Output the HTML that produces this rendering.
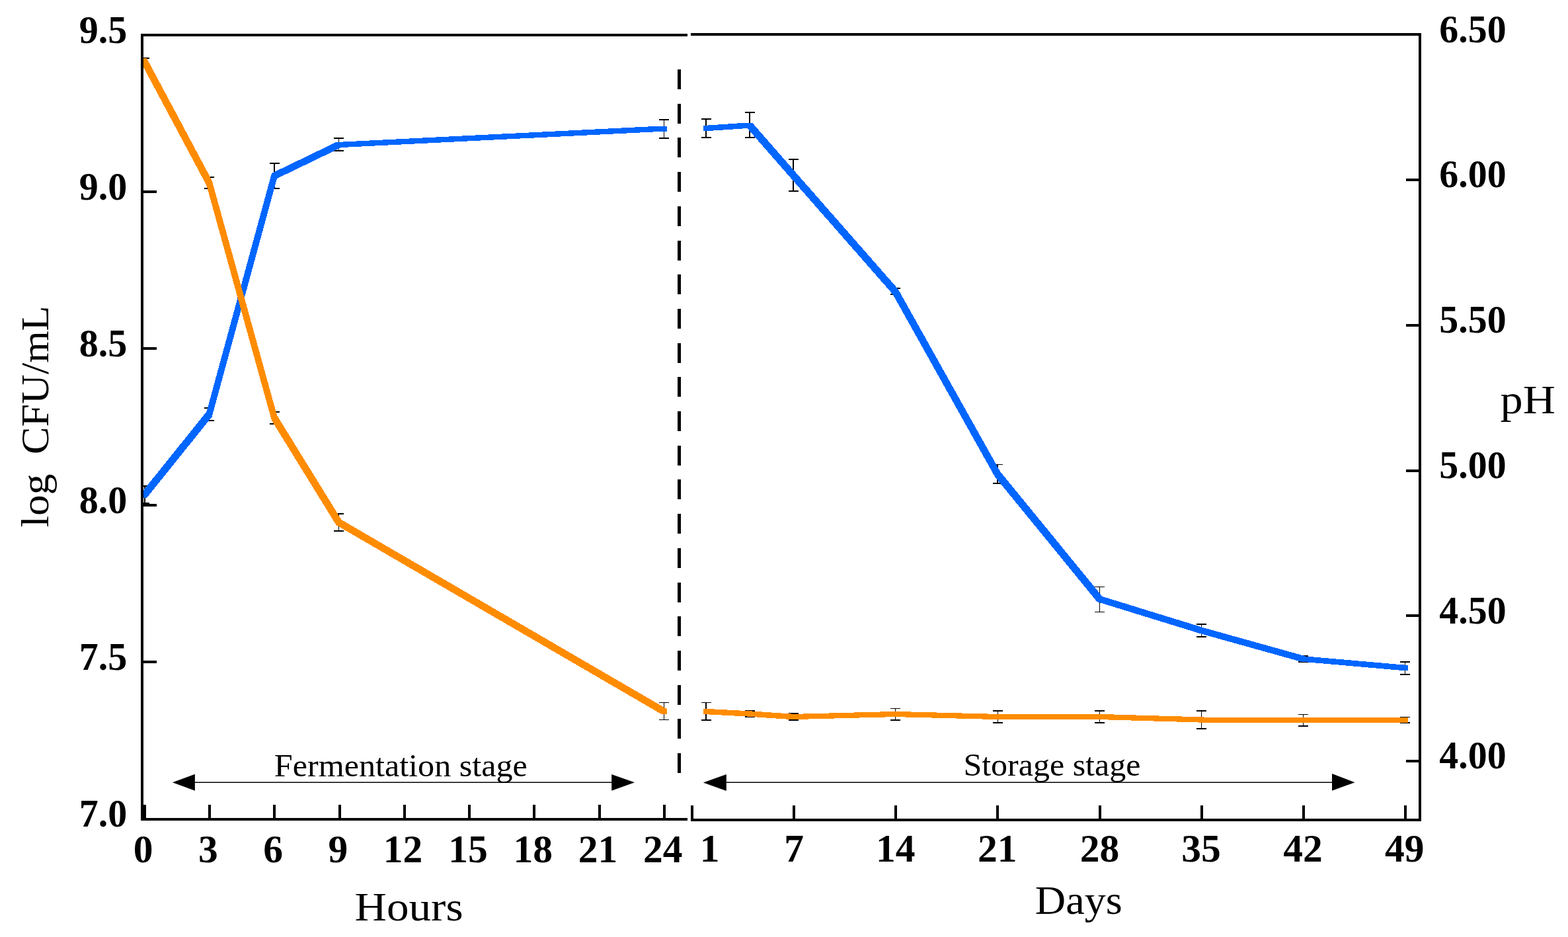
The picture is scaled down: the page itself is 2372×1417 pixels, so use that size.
<!DOCTYPE html>
<html><head><meta charset="utf-8"><title>Chart</title>
<style>html,body{margin:0;padding:0;background:#fff;}svg{display:block;}</style>
</head><body>
<svg width="2372" height="1417" viewBox="0 0 2372 1417">
<rect x="0" y="0" width="2372" height="1417" fill="#fff"/>
<g fill="#000" shape-rendering="crispEdges">
<rect x="213" y="51" width="4" height="1190"/>
<rect x="213" y="51" width="827" height="4"/>
<rect x="213" y="1237" width="827" height="4"/>
<rect x="1045" y="50" width="1105" height="4"/>
<rect x="1045" y="1238" width="1105" height="4"/>
<rect x="2146" y="50" width="4" height="1192"/>
<rect x="217" y="288.0" width="20" height="4"/>
<rect x="217" y="525.0" width="20" height="4"/>
<rect x="217" y="762.0" width="20" height="4"/>
<rect x="217" y="999.0" width="20" height="4"/>
<rect x="2127" y="270.0" width="19" height="4"/>
<rect x="2127" y="489.8" width="19" height="4"/>
<rect x="2127" y="709.5" width="19" height="4"/>
<rect x="2127" y="929.2" width="19" height="4"/>
<rect x="2127" y="1149.0" width="19" height="4"/>
<rect x="216.7" y="1217" width="4" height="21"/>
<rect x="315.0" y="1217" width="4" height="21"/>
<rect x="413.3" y="1217" width="4" height="21"/>
<rect x="511.6" y="1217" width="4" height="21"/>
<rect x="609.8" y="1217" width="4" height="21"/>
<rect x="708.1" y="1217" width="4" height="21"/>
<rect x="806.4" y="1217" width="4" height="21"/>
<rect x="904.7" y="1217" width="4" height="21"/>
<rect x="1003.0" y="1217" width="4" height="21"/>
<rect x="1044.8" y="1218" width="4" height="21"/>
<rect x="1199.0" y="1218" width="4" height="21"/>
<rect x="1353.1" y="1218" width="4" height="21"/>
<rect x="1507.3" y="1218" width="4" height="21"/>
<rect x="1661.5" y="1218" width="4" height="21"/>
<rect x="1815.6" y="1218" width="4" height="21"/>
<rect x="1969.8" y="1218" width="4" height="21"/>
<rect x="2124.0" y="1218" width="4" height="21"/>
</g>
<line x1="1027.5" y1="105" x2="1027.5" y2="1170" stroke="#000" stroke-width="5" stroke-dasharray="30 21.7" shape-rendering="crispEdges"/>
<clipPath id="cl"><rect x="217" y="0" width="2200" height="1417"/></clipPath>
<g fill="#000" shape-rendering="crispEdges" clip-path="url(#cl)">
<rect x="217.9" y="735.0" width="1.6" height="26.0"/><rect x="211.2" y="734.0" width="15" height="1.9"/><rect x="211.2" y="760.0" width="15" height="1.9"/>
<rect x="315.7" y="617.0" width="1.6" height="19.0"/><rect x="309.0" y="616.0" width="15" height="1.9"/><rect x="309.0" y="635.0" width="15" height="1.9"/>
<rect x="414.2" y="247.0" width="1.6" height="38.0"/><rect x="407.5" y="246.1" width="15" height="1.9"/><rect x="407.5" y="284.1" width="15" height="1.9"/>
<rect x="511.7" y="209.0" width="1.6" height="18.5"/><rect x="505.0" y="208.1" width="15" height="1.9"/><rect x="505.0" y="226.6" width="15" height="1.9"/>
<rect x="1003.7" y="181.0" width="1.6" height="28.0"/><rect x="997.0" y="180.1" width="15" height="1.9"/><rect x="997.0" y="208.1" width="15" height="1.9"/>
<rect x="217.9" y="88.0" width="1.6" height="11.0"/><rect x="211.2" y="87.0" width="15" height="1.9"/><rect x="211.2" y="98.0" width="15" height="1.9"/>
<rect x="315.7" y="268.0" width="1.6" height="17.0"/><rect x="309.0" y="267.1" width="15" height="1.9"/><rect x="309.0" y="284.1" width="15" height="1.9"/>
<rect x="414.2" y="623.0" width="1.6" height="18.0"/><rect x="407.5" y="622.0" width="15" height="1.9"/><rect x="407.5" y="640.0" width="15" height="1.9"/>
<rect x="511.7" y="777.0" width="1.6" height="26.4"/><rect x="505.0" y="776.0" width="15" height="1.9"/><rect x="505.0" y="802.4" width="15" height="1.9"/>
<rect x="1003.7" y="1062.5" width="1.6" height="25.9"/><rect x="997.0" y="1061.5" width="15" height="1.9"/><rect x="997.0" y="1087.5" width="15" height="1.9"/>
<rect x="1067.2" y="180.0" width="1.6" height="28.0"/><rect x="1060.5" y="179.1" width="15" height="1.9"/><rect x="1060.5" y="207.1" width="15" height="1.9"/>
<rect x="1133.2" y="170.0" width="1.6" height="38.0"/><rect x="1126.5" y="169.1" width="15" height="1.9"/><rect x="1126.5" y="207.1" width="15" height="1.9"/>
<rect x="1199.2" y="241.0" width="1.6" height="47.7"/><rect x="1192.5" y="240.1" width="15" height="1.9"/><rect x="1192.5" y="287.8" width="15" height="1.9"/>
<rect x="1353.7" y="436.0" width="1.6" height="9.4"/><rect x="1347.0" y="435.1" width="15" height="1.9"/><rect x="1347.0" y="444.4" width="15" height="1.9"/>
<rect x="1508.2" y="702.5" width="1.6" height="28.5"/><rect x="1501.5" y="701.5" width="15" height="1.9"/><rect x="1501.5" y="730.0" width="15" height="1.9"/>
<rect x="1662.7" y="887.5" width="1.6" height="38.0"/><rect x="1656.0" y="886.5" width="15" height="1.9"/><rect x="1656.0" y="924.5" width="15" height="1.9"/>
<rect x="1816.7" y="944.0" width="1.6" height="19.0"/><rect x="1810.0" y="943.0" width="15" height="1.9"/><rect x="1810.0" y="962.0" width="15" height="1.9"/>
<rect x="1970.7" y="991.7" width="1.6" height="9.3"/><rect x="1964.0" y="990.8" width="15" height="1.9"/><rect x="1964.0" y="1000.0" width="15" height="1.9"/>
<rect x="2124.7" y="1001.0" width="1.6" height="19.0"/><rect x="2118.0" y="1000.0" width="15" height="1.9"/><rect x="2118.0" y="1019.0" width="15" height="1.9"/>
<rect x="1067.2" y="1062.5" width="1.6" height="26.5"/><rect x="1060.5" y="1061.5" width="15" height="1.9"/><rect x="1060.5" y="1088.0" width="15" height="1.9"/>
<rect x="1133.2" y="1075.3" width="1.6" height="8.8"/><rect x="1126.5" y="1074.3" width="15" height="1.9"/><rect x="1126.5" y="1083.1" width="15" height="1.9"/>
<rect x="1199.2" y="1079.0" width="1.6" height="10.0"/><rect x="1192.5" y="1078.0" width="15" height="1.9"/><rect x="1192.5" y="1088.0" width="15" height="1.9"/>
<rect x="1353.7" y="1071.5" width="1.6" height="17.5"/><rect x="1347.0" y="1070.5" width="15" height="1.9"/><rect x="1347.0" y="1088.0" width="15" height="1.9"/>
<rect x="1508.7" y="1075.3" width="1.6" height="17.7"/><rect x="1502.0" y="1074.3" width="15" height="1.9"/><rect x="1502.0" y="1092.0" width="15" height="1.9"/>
<rect x="1662.7" y="1075.3" width="1.6" height="17.7"/><rect x="1656.0" y="1074.3" width="15" height="1.9"/><rect x="1656.0" y="1092.0" width="15" height="1.9"/>
<rect x="1816.7" y="1075.0" width="1.6" height="26.8"/><rect x="1810.0" y="1074.0" width="15" height="1.9"/><rect x="1810.0" y="1100.8" width="15" height="1.9"/>
<rect x="1970.7" y="1080.4" width="1.6" height="17.4"/><rect x="1964.0" y="1079.5" width="15" height="1.9"/><rect x="1964.0" y="1096.8" width="15" height="1.9"/>
<rect x="2124.7" y="1084.5" width="1.6" height="8.8"/><rect x="2118.0" y="1083.5" width="15" height="1.9"/><rect x="2118.0" y="1092.3" width="15" height="1.9"/>
</g>
<g>
<path d="M214.00,745.00 L312.50,622.50 L320.50,622.50 L320.50,630.50 L222.00,753.00 L214.00,753.00 Z M312.50,622.50 L411.00,262.00 L419.00,262.00 L419.00,270.00 L320.50,630.50 L312.50,630.50 Z M411.00,262.00 L508.50,215.00 L516.50,215.00 L516.50,223.00 L419.00,270.00 L411.00,270.00 Z M508.50,215.00 L1000.50,190.50 L1008.50,190.50 L1008.50,198.50 L516.50,223.00 L508.50,223.00 Z" fill="#0066FF" fill-rule="nonzero" shape-rendering="crispEdges"/>
<path d="M1064.00,190.00 L1130.00,185.50 L1138.00,185.50 L1138.00,193.50 L1072.00,198.00 L1064.00,198.00 Z M1130.00,185.50 L1138.00,185.50 L1204.00,261.00 L1204.00,269.00 L1196.00,269.00 L1130.00,193.50 Z M1196.00,261.00 L1204.00,261.00 L1358.50,437.00 L1358.50,445.00 L1350.50,445.00 L1196.00,269.00 Z M1350.50,437.00 L1358.50,437.00 L1513.00,713.00 L1513.00,721.00 L1505.00,721.00 L1350.50,445.00 Z M1505.00,713.00 L1513.00,713.00 L1667.50,902.00 L1667.50,910.00 L1659.50,910.00 L1505.00,721.00 Z M1659.50,902.00 L1667.50,902.00 L1821.50,949.50 L1821.50,957.50 L1813.50,957.50 L1659.50,910.00 Z M1813.50,949.50 L1821.50,949.50 L1975.50,992.50 L1975.50,1000.50 L1967.50,1000.50 L1813.50,957.50 Z M1967.50,992.50 L1975.50,992.50 L2129.50,1006.00 L2129.50,1014.00 L2121.50,1014.00 L1967.50,1000.50 Z" fill="#0066FF" fill-rule="nonzero" shape-rendering="crispEdges"/>
<path d="M214.00,88.00 L222.00,88.00 L320.50,272.50 L320.50,280.50 L312.50,280.50 L214.00,96.00 Z M312.50,272.50 L320.50,272.50 L419.00,628.00 L419.00,636.00 L411.00,636.00 L312.50,280.50 Z M411.00,628.00 L419.00,628.00 L516.50,786.00 L516.50,794.00 L508.50,794.00 L411.00,636.00 Z M508.50,786.00 L516.50,786.00 L1008.50,1072.00 L1008.50,1080.00 L1000.50,1080.00 L508.50,794.00 Z" fill="#FF8C00" fill-rule="nonzero" shape-rendering="crispEdges"/>
<path d="M1064.00,1072.00 L1072.00,1072.00 L1138.00,1075.50 L1138.00,1083.50 L1130.00,1083.50 L1064.00,1080.00 Z M1130.00,1075.50 L1138.00,1075.50 L1204.00,1080.00 L1204.00,1088.00 L1196.00,1088.00 L1130.00,1083.50 Z M1196.00,1080.00 L1350.50,1076.00 L1358.50,1076.00 L1358.50,1084.00 L1204.00,1088.00 L1196.00,1088.00 Z M1350.50,1076.00 L1358.50,1076.00 L1513.50,1080.00 L1513.50,1088.00 L1505.50,1088.00 L1350.50,1084.00 Z M1505.50,1080.00 L1667.50,1080.00 L1667.50,1088.00 L1505.50,1088.00 Z M1659.50,1080.00 L1667.50,1080.00 L1821.50,1084.50 L1821.50,1092.50 L1813.50,1092.50 L1659.50,1088.00 Z M1813.50,1084.50 L1821.50,1084.50 L1975.50,1085.00 L1975.50,1093.00 L1967.50,1093.00 L1813.50,1092.50 Z M1967.50,1085.00 L2129.50,1085.00 L2129.50,1093.00 L1967.50,1093.00 Z" fill="#FF8C00" fill-rule="nonzero" shape-rendering="crispEdges"/>
</g>
<rect x="213" y="51" width="4" height="1190" fill="#000" shape-rendering="crispEdges"/>
<rect x="294" y="1182.45" width="632" height="1.5" fill="#000"/>
<polygon points="260.9,1183.2 294.9,1170.7 294.9,1195.7" fill="#000"/>
<polygon points="960,1183.2 925.2,1170.9 925.2,1195.8" fill="#000"/>
<rect x="1098" y="1182.45" width="918" height="1.5" fill="#000"/>
<polygon points="1063.8,1183.4 1098.8,1170.9 1098.8,1195.9" fill="#000"/>
<polygon points="2049.6,1183.2 2015,1169.9 2015,1195.7" fill="#000"/>
<text x="192.3" y="65.0" text-anchor="end" font-family="Liberation Serif, serif" font-weight="bold" font-size="59.5" textLength="72.6" lengthAdjust="spacingAndGlyphs">9.5</text>
<text x="192.3" y="302.0" text-anchor="end" font-family="Liberation Serif, serif" font-weight="bold" font-size="59.5" textLength="72.6" lengthAdjust="spacingAndGlyphs">9.0</text>
<text x="192.3" y="539.0" text-anchor="end" font-family="Liberation Serif, serif" font-weight="bold" font-size="59.5" textLength="72.6" lengthAdjust="spacingAndGlyphs">8.5</text>
<text x="192.3" y="776.0" text-anchor="end" font-family="Liberation Serif, serif" font-weight="bold" font-size="59.5" textLength="72.6" lengthAdjust="spacingAndGlyphs">8.0</text>
<text x="192.3" y="1013.0" text-anchor="end" font-family="Liberation Serif, serif" font-weight="bold" font-size="59.5" textLength="72.6" lengthAdjust="spacingAndGlyphs">7.5</text>
<text x="192.3" y="1250.0" text-anchor="end" font-family="Liberation Serif, serif" font-weight="bold" font-size="59.5" textLength="72.6" lengthAdjust="spacingAndGlyphs">7.0</text>
<text x="2177.3" y="63.5" font-family="Liberation Serif, serif" font-weight="bold" font-size="59.5" textLength="101.3" lengthAdjust="spacingAndGlyphs">6.50</text>
<text x="2177.3" y="283.2" font-family="Liberation Serif, serif" font-weight="bold" font-size="59.5" textLength="101.3" lengthAdjust="spacingAndGlyphs">6.00</text>
<text x="2177.3" y="502.9" font-family="Liberation Serif, serif" font-weight="bold" font-size="59.5" textLength="101.3" lengthAdjust="spacingAndGlyphs">5.50</text>
<text x="2177.3" y="722.7" font-family="Liberation Serif, serif" font-weight="bold" font-size="59.5" textLength="101.3" lengthAdjust="spacingAndGlyphs">5.00</text>
<text x="2177.3" y="942.5" font-family="Liberation Serif, serif" font-weight="bold" font-size="59.5" textLength="101.3" lengthAdjust="spacingAndGlyphs">4.50</text>
<text x="2177.3" y="1162.2" font-family="Liberation Serif, serif" font-weight="bold" font-size="59.5" textLength="101.3" lengthAdjust="spacingAndGlyphs">4.00</text>
<text x="216.5" y="1303.5" text-anchor="middle" font-family="Liberation Serif, serif" font-weight="bold" font-size="59.5">0</text>
<text x="314.8" y="1303.5" text-anchor="middle" font-family="Liberation Serif, serif" font-weight="bold" font-size="59.5">3</text>
<text x="413.1" y="1303.5" text-anchor="middle" font-family="Liberation Serif, serif" font-weight="bold" font-size="59.5">6</text>
<text x="511.4" y="1303.5" text-anchor="middle" font-family="Liberation Serif, serif" font-weight="bold" font-size="59.5">9</text>
<text x="609.6" y="1303.5" text-anchor="middle" font-family="Liberation Serif, serif" font-weight="bold" font-size="59.5">12</text>
<text x="707.9" y="1303.5" text-anchor="middle" font-family="Liberation Serif, serif" font-weight="bold" font-size="59.5">15</text>
<text x="806.2" y="1303.5" text-anchor="middle" font-family="Liberation Serif, serif" font-weight="bold" font-size="59.5">18</text>
<text x="904.5" y="1303.5" text-anchor="middle" font-family="Liberation Serif, serif" font-weight="bold" font-size="59.5">21</text>
<text x="1002.8" y="1303.5" text-anchor="middle" font-family="Liberation Serif, serif" font-weight="bold" font-size="59.5">24</text>
<text x="1073.6" y="1303" text-anchor="middle" font-family="Liberation Serif, serif" font-weight="bold" font-size="59.5">1</text>
<text x="1201" y="1303" text-anchor="middle" font-family="Liberation Serif, serif" font-weight="bold" font-size="59.5">7</text>
<text x="1354.7" y="1303" text-anchor="middle" font-family="Liberation Serif, serif" font-weight="bold" font-size="59.5">14</text>
<text x="1508.8" y="1303" text-anchor="middle" font-family="Liberation Serif, serif" font-weight="bold" font-size="59.5">21</text>
<text x="1663.4" y="1303" text-anchor="middle" font-family="Liberation Serif, serif" font-weight="bold" font-size="59.5">28</text>
<text x="1817" y="1303" text-anchor="middle" font-family="Liberation Serif, serif" font-weight="bold" font-size="59.5">35</text>
<text x="1971" y="1303" text-anchor="middle" font-family="Liberation Serif, serif" font-weight="bold" font-size="59.5">42</text>
<text x="2124.7" y="1303" text-anchor="middle" font-family="Liberation Serif, serif" font-weight="bold" font-size="59.5">49</text>
<text x="414.8" y="1173.5" font-family="Liberation Serif, serif" font-size="48" textLength="383" lengthAdjust="spacingAndGlyphs">Fermentation stage</text>
<text x="1457.4" y="1173.1" font-family="Liberation Serif, serif" font-size="48" textLength="268" lengthAdjust="spacingAndGlyphs">Storage stage</text>
<text x="536.5" y="1392" font-family="Liberation Serif, serif" font-size="61" textLength="164" lengthAdjust="spacingAndGlyphs">Hours</text>
<text x="1565.8" y="1382" font-family="Liberation Serif, serif" font-size="61" textLength="132" lengthAdjust="spacingAndGlyphs">Days</text>
<text x="2269.6" y="624.6" font-family="Liberation Serif, serif" font-size="61.5" textLength="83.5" lengthAdjust="spacingAndGlyphs">pH</text>
<text transform="translate(73.4,797.5) rotate(-90)" x="0" y="0" font-family="Liberation Serif, serif" font-size="60" textLength="81" lengthAdjust="spacingAndGlyphs">log</text>
<text transform="translate(73.4,687) rotate(-90)" x="0" y="0" font-family="Liberation Serif, serif" font-size="60" textLength="224.5" lengthAdjust="spacingAndGlyphs">CFU/mL</text>
</svg>
</body></html>
